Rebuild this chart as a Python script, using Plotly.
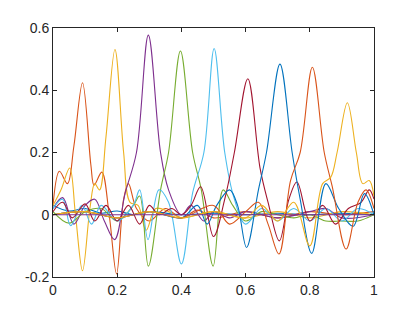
import plotly.graph_objects as go

# Curve data (x positions and values of key points)
c1_x = [0, 0.05, 0.1, 0.15, 0.2, 0.25, 0.3, 0.4, 0.5, 0.6, 0.7, 0.8, 0.9, 1]
c1_y = [0.03, 0.012, 0.02, 0.005, 0.012, 0.0, 0.01, 0.0, 0.005, 0.0, 0.005, 0.0, 0.005, 0.0]

c2_x = [0, 0.02, 0.045, 0.065, 0.092, 0.118, 0.128, 0.152, 0.175, 0.198, 0.22, 0.235, 0.26, 0.3, 0.35, 0.4, 0.45, 0.5, 0.6, 0.7, 0.8, 0.9, 1]
c2_y = [0.03, 0.14, 0.1, 0.22, 0.424, 0.16, 0.095, 0.137, 0.0, -0.19, 0.05, 0.1, 0.02, -0.02, 0.02, -0.01, 0.015, -0.01, 0.01, -0.01, 0.01, 0.0, 0.01]

c3_x = [0, 0.025, 0.052, 0.07, 0.092, 0.115, 0.13, 0.145, 0.165, 0.193, 0.22, 0.24, 0.265, 0.29, 0.32, 0.36, 0.4, 0.5, 0.6, 0.7, 0.8, 0.9, 1]
c3_y = [0.03, 0.08, 0.15, 0.0, -0.18, 0.02, 0.1, 0.08, 0.25, 0.531, 0.2, 0.04, 0.03, -0.05, 0.02, 0.01, -0.01, 0.01, -0.01, 0.01, -0.01, 0.01, 0.0]

c4_x = [0, 0.03, 0.065, 0.1, 0.13, 0.16, 0.192, 0.225, 0.26, 0.297, 0.335, 0.36, 0.4, 0.43, 0.47, 0.5, 0.55, 0.6, 0.7, 0.8, 0.85, 0.9, 1]
c4_y = [0.02, 0.055, -0.03, 0.03, 0.05, -0.02, -0.08, 0.07, 0.2, 0.577, 0.2, 0.08, 0.0, 0.03, -0.02, 0.01, -0.01, 0.01, -0.01, 0.01, 0.02, -0.01, 0.0]

c5_x = [0, 0.05, 0.1, 0.15, 0.2, 0.25, 0.27, 0.297, 0.335, 0.36, 0.397, 0.435, 0.462, 0.499, 0.53, 0.56, 0.6, 0.65, 0.7, 0.75, 0.8, 0.85, 0.9, 0.95, 1]
c5_y = [0.01, -0.027, 0.01, 0.02, -0.02, 0.03, 0.06, -0.165, 0.08, 0.2, 0.526, 0.2, 0.08, -0.165, 0.08, 0.03, -0.02, 0.01, 0.0, -0.01, 0.0, -0.02, -0.02, -0.02, 0.0]

c6_x = [0, 0.03, 0.055, 0.09, 0.12, 0.15, 0.2, 0.25, 0.27, 0.296, 0.33, 0.36, 0.4, 0.435, 0.47, 0.502, 0.535, 0.565, 0.6, 0.65, 0.7, 0.75, 0.8, 0.85, 0.9, 0.95, 1]
c6_y = [0.02, 0.05, -0.035, 0.03, -0.03, 0.03, -0.02, 0.03, 0.08, -0.08, 0.08, 0.04, -0.158, 0.07, 0.2, 0.534, 0.2, 0.05, -0.03, 0.02, -0.02, 0.02, -0.02, 0.02, -0.02, 0.02, 0.0]

c7_x = [0, 0.03, 0.06, 0.1, 0.13, 0.165, 0.2, 0.235, 0.27, 0.3, 0.33, 0.37, 0.4, 0.43, 0.46, 0.5, 0.535, 0.565, 0.607, 0.645, 0.67, 0.705, 0.735, 0.76, 0.8, 0.84, 0.88, 0.92, 0.96, 0.985, 1]
c7_y = [0.01, 0.04, -0.01, 0.035, -0.02, 0.03, -0.02, 0.03, -0.03, 0.03, 0.0, 0.02, 0.0, 0.03, 0.09, -0.07, 0.05, 0.2, 0.437, 0.15, 0.04, -0.084, 0.05, 0.105, -0.02, 0.03, -0.03, 0.02, 0.04, 0.08, 0.05]

c8_x = [0, 0.1, 0.2, 0.3, 0.4, 0.45, 0.48, 0.51, 0.55, 0.575, 0.603, 0.64, 0.665, 0.707, 0.745, 0.77, 0.806, 0.85, 0.89, 0.935, 0.97, 1]
c8_y = [0.0, 0.01, -0.01, 0.01, -0.01, 0.03, -0.03, 0.03, 0.08, 0.03, -0.105, 0.08, 0.2, 0.484, 0.2, 0.05, -0.124, 0.1, 0.02, -0.037, 0.068, 0.0]

c9_x = [0, 0.1, 0.2, 0.3, 0.4, 0.5, 0.55, 0.6, 0.64, 0.67, 0.704, 0.74, 0.77, 0.808, 0.845, 0.87, 0.913, 0.95, 0.975, 1]
c9_y = [0.0, 0.01, -0.01, 0.01, -0.01, 0.03, -0.03, 0.01, 0.04, -0.03, -0.126, 0.11, 0.2, 0.474, 0.2, 0.09, -0.11, 0.04, 0.08, 0.02]

c10_x = [0, 0.1, 0.2, 0.3, 0.4, 0.5, 0.6, 0.65, 0.7, 0.75, 0.8, 0.84, 0.865, 0.885, 0.917, 0.945, 0.965, 0.985, 1]
c10_y = [0.0, 0.01, -0.01, 0.01, -0.01, 0.01, -0.01, 0.03, -0.02, 0.04, -0.1, 0.1, 0.12, 0.2, 0.36, 0.2, 0.1, 0.11, 0.06]

c11_x = [0, 1]
c11_y = [0.0, 0.0]

x_ticks = [0, 0.2, 0.4, 0.6, 0.8, 1]
x_labels = ["0", "0.2", "0.4", "0.6", "0.8", "1"]
y_ticks = [-0.2, 0, 0.2, 0.4, 0.6]
y_labels = ["-0.2", "0", "0.2", "0.4", "0.6"]

series = [(c1_x, c1_y), (c2_x, c2_y), (c3_x, c3_y), (c4_x, c4_y), (c5_x, c5_y),
          (c6_x, c6_y), (c7_x, c7_y), (c8_x, c8_y), (c9_x, c9_y), (c10_x, c10_y),
          (c11_x, c11_y)]
colors = ["#0072BD", "#D95319", "#EDB120", "#7E2F8E", "#77AC30", "#4DBEEE", "#A2142F"]

fig = go.Figure()
for i, (xs, ys) in enumerate(series):
    fig.add_trace(go.Scatter(x=xs, y=ys, mode="lines",
                             line=dict(color=colors[i % 7], width=1.1, shape="spline", smoothing=1.0),
                             showlegend=False, hoverinfo="skip"))

axis_common = dict(showline=True, linecolor="#262626", linewidth=1, mirror="allticks",
                   ticks="inside", ticklen=4, tickcolor="#262626", showgrid=False, zeroline=False,
                   tickfont=dict(family="Liberation Sans, Arial, sans-serif", size=14, color="#262626"))
fig.update_xaxes(range=[0, 1], tickvals=x_ticks, ticktext=x_labels, **axis_common)
fig.update_yaxes(range=[-0.2, 0.6], tickvals=y_ticks, ticktext=y_labels, **axis_common)
fig.update_layout(width=415, height=311, margin=dict(l=45, r=49, t=15, b=42),
                  plot_bgcolor="white", paper_bgcolor="white")
fig.write_html("out.html")
